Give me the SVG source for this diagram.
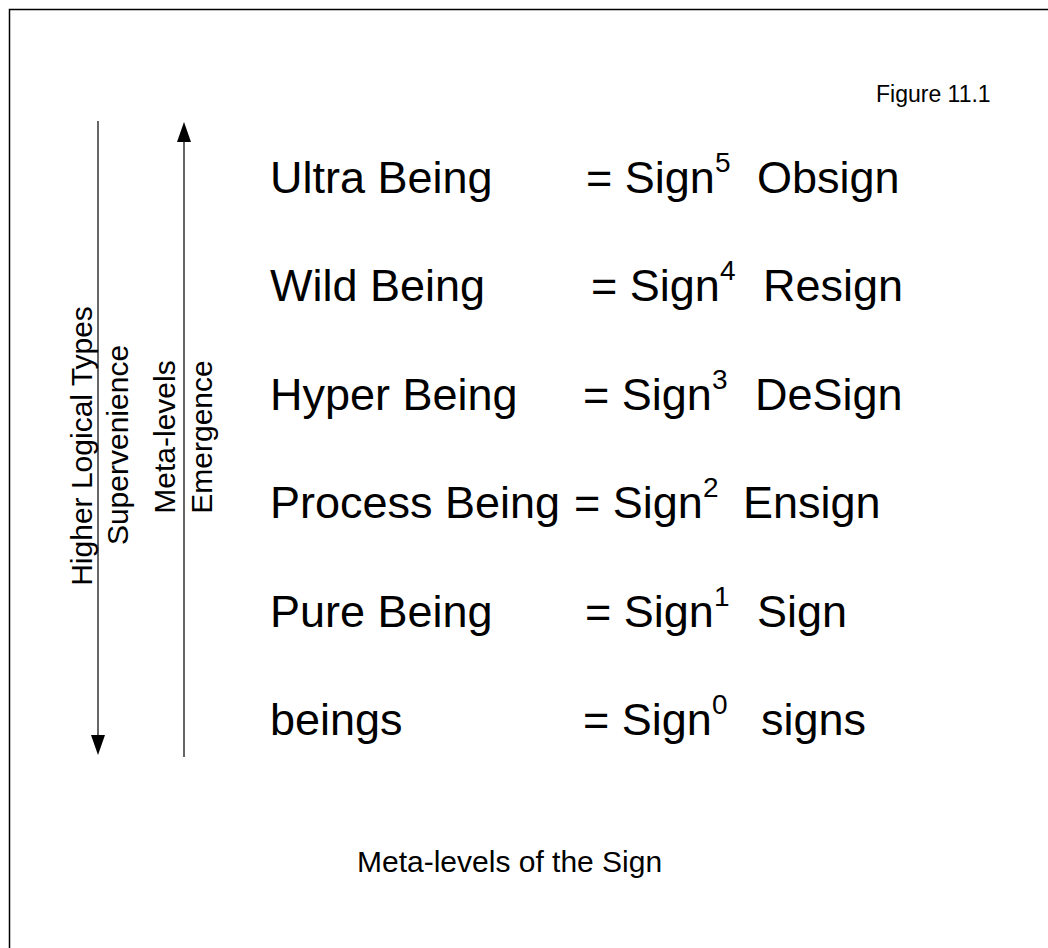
<svg xmlns="http://www.w3.org/2000/svg" width="1048" height="948" viewBox="0 0 1048 948">
  <style>
    text { font-family: "Liberation Sans", Arial, sans-serif; fill: #000; }
    .row { font-size: 45px; }
    .sup { font-size: 28px; }
    .side { font-size: 30px; }
    .axis { stroke: #333; stroke-width: 1.5; fill: none; }
    .frame { stroke: #000; stroke-width: 1.5; fill: none; }
  </style>
  <rect x="0" y="0" width="1048" height="948" fill="#fff"/>
  <path class="frame" d="M9.5,948 V9.5 H1048"/>

  <g id="title">
    <text x="876" y="102" font-size="23">Figure 11.1</text>
  </g>

  <g id="connectors">
    <line class="axis" x1="98" y1="121" x2="98" y2="737"/>
    <polygon points="91,735 105,735 98,755" fill="#000"/>
    <line class="axis" x1="184" y1="140" x2="184" y2="757"/>
    <polygon points="177,142 191,142 184,122" fill="#000"/>
  </g>

  <g id="axis-labels">
    <text class="side" text-anchor="middle" transform="translate(92,446) rotate(-90)">Higher Logical Types</text>
    <text class="side" text-anchor="middle" transform="translate(128,445) rotate(-90)">Supervenience</text>
    <text class="side" text-anchor="middle" transform="translate(175,437) rotate(-90)">Meta-levels</text>
    <text class="side" text-anchor="middle" transform="translate(212,437) rotate(-90)">Emergence</text>
  </g>

  <g id="level-5">
    <text class="row" x="270" y="193">Ultra Being</text>
    <text class="row" x="586" y="193">= Sign</text>
    <text class="sup" x="715" y="172">5</text>
    <text class="row" x="757" y="193">Obsign</text>
  </g>
  <g id="level-4">
    <text class="row" x="270" y="301">Wild Being</text>
    <text class="row" x="591" y="301">= Sign</text>
    <text class="sup" x="720" y="280">4</text>
    <text class="row" x="763" y="301">Resign</text>
  </g>
  <g id="level-3">
    <text class="row" x="270" y="410">Hyper Being</text>
    <text class="row" x="583" y="410">= Sign</text>
    <text class="sup" x="712" y="389">3</text>
    <text class="row" x="755" y="410">DeSign</text>
  </g>
  <g id="level-2">
    <text class="row" x="270" y="518">Process Being</text>
    <text class="row" x="574" y="518">= Sign</text>
    <text class="sup" x="703" y="497">2</text>
    <text class="row" x="743" y="518">Ensign</text>
  </g>
  <g id="level-1">
    <text class="row" x="270" y="627">Pure Being</text>
    <text class="row" x="585" y="627">= Sign</text>
    <text class="sup" x="714" y="606">1</text>
    <text class="row" x="757" y="627">Sign</text>
  </g>
  <g id="level-0">
    <text class="row" x="270" y="735">beings</text>
    <text class="row" x="583" y="735">= Sign</text>
    <text class="sup" x="712" y="714">0</text>
    <text class="row" x="761" y="735">signs</text>
  </g>

  <g id="caption">
    <text x="357" y="872" font-size="30">Meta-levels of the Sign</text>
  </g>
</svg>
